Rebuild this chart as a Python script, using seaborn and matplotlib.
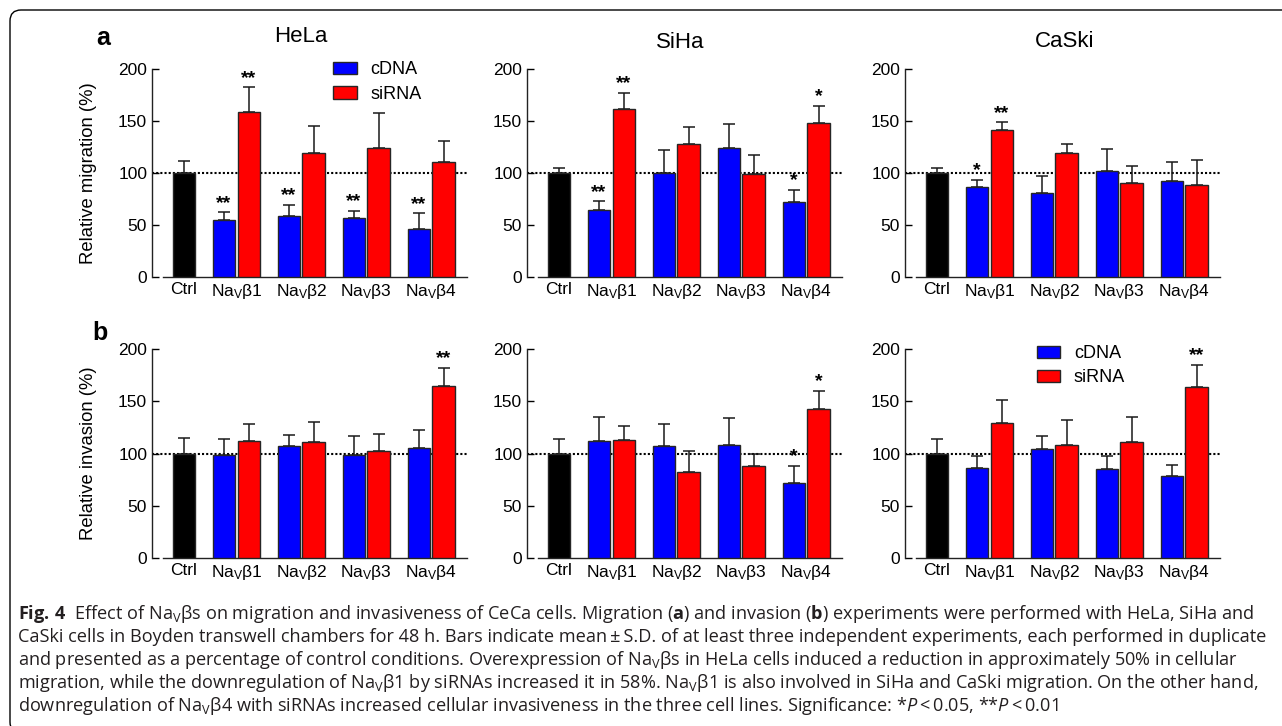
import numpy as np
import pandas as pd
import matplotlib
matplotlib.use('Agg')
import matplotlib.pyplot as plt
import seaborn as sns
from matplotlib.patches import FancyBboxPatch, Patch

# categories
cells = ['HeLa', 'SiHa', 'CaSki']
groups = ['Ctrl', 'b1', 'b2', 'b3', 'b4']
group_labels = ['Ctrl', r'Na$_\mathregular{V}$β1', r'Na$_\mathregular{V}$β2',
                r'Na$_\mathregular{V}$β3', r'Na$_\mathregular{V}$β4']

# migration (a), % of control, mean and S.D.
mig_ctrl = [100, 100, 100]
mig_ctrl_sd = [11, 5, 5]
mig_hela_cdna = [55, 59, 57, 46]
mig_hela_cdna_sd = [7, 10, 6.5, 15]
mig_hela_sirna = [158, 119, 124, 110]
mig_hela_sirna_sd = [24, 26, 33, 21]
mig_siha_cdna = [64, 100, 124, 72]
mig_siha_cdna_sd = [8.5, 22, 23, 11.5]
mig_siha_sirna = [161, 127.5, 98.5, 147.5]
mig_siha_sirna_sd = [16, 17, 19, 17]
mig_caski_cdna = [86, 80.5, 101.5, 92.5]
mig_caski_cdna_sd = [7, 16, 21, 18]
mig_caski_sirna = [141, 119.5, 90, 88]
mig_caski_sirna_sd = [7.5, 8.5, 17, 24]

# invasion (b)
inv_ctrl = [100, 100, 100]
inv_ctrl_sd = [15, 13.5, 13.5]
inv_hela_cdna = [98.5, 107, 99, 105]
inv_hela_cdna_sd = [15.5, 11, 17.5, 18]
inv_hela_sirna = [112, 111.5, 102, 164.5]
inv_hela_sirna_sd = [16, 18.5, 17, 18]
inv_siha_cdna = [112.5, 107.5, 108, 71.5]
inv_siha_cdna_sd = [22.5, 21, 26.5, 16.5]
inv_siha_sirna = [113, 82.5, 88, 142.5]
inv_siha_sirna_sd = [13.5, 19.5, 12, 18]
inv_caski_cdna = [86, 104.5, 85, 78.5]
inv_caski_cdna_sd = [11.5, 12.5, 13, 10.5]
inv_caski_sirna = [129.5, 108, 111, 164]
inv_caski_sirna_sd = [22, 24, 24, 21]

# significance marks
mig_hela_cdna_sig = ['**', '**', '**', '**']
mig_hela_sirna_sig = ['**', '', '', '']
mig_siha_cdna_sig = ['**', '', '', '*']
mig_siha_sirna_sig = ['**', '', '', '*']
mig_caski_cdna_sig = ['*', '', '', '']
mig_caski_sirna_sig = ['**', '', '', '']
inv_hela_cdna_sig = ['', '', '', '']
inv_hela_sirna_sig = ['', '', '', '**']
inv_siha_cdna_sig = ['', '', '', '*']
inv_siha_sirna_sig = ['', '', '', '*']
inv_caski_cdna_sig = ['', '', '', '']
inv_caski_sirna_sig = ['', '', '', '**']

W, H = 1282, 726
sns.set_style('ticks')
plt.rcParams['font.family'] = ['Liberation Sans', 'DejaVu Sans']
plt.rcParams['text.color'] = 'black'
plt.rcParams['axes.labelcolor'] = 'black'
plt.rcParams['xtick.color'] = 'black'
plt.rcParams['ytick.color'] = 'black'
plt.rcParams['mathtext.fontset'] = 'custom'
plt.rcParams['mathtext.rm'] = 'Open Sans'
plt.rcParams['mathtext.it'] = 'Open Sans:italic'
plt.rcParams['mathtext.bf'] = 'Open Sans:bold'

pal = {'Ctrl': 'black', 'cDNA': '#0000ff', 'siRNA': '#ff0000'}
edge = '#262626'


def make_frame(ctrl, ctrl_sd, cdna, cdna_sd, sirna, sirna_sd, sig_c, sig_s):
    rows = [dict(group='Ctrl', cond='Ctrl', val=ctrl, sd=ctrl_sd, sig='')]
    for i, g in enumerate(groups[1:]):
        rows.append(dict(group=g, cond='cDNA', val=cdna[i], sd=cdna_sd[i], sig=sig_c[i]))
        rows.append(dict(group=g, cond='siRNA', val=sirna[i], sd=sirna_sd[i], sig=sig_s[i]))
    df = pd.DataFrame(rows)
    gi = df['group'].map({g: i for i, g in enumerate(groups)})
    df['pos'] = gi + df['cond'].map({'Ctrl': 0.19, 'cDNA': -0.19, 'siRNA': 0.19})
    return df


frames = [
    [make_frame(mig_ctrl[0], mig_ctrl_sd[0], mig_hela_cdna, mig_hela_cdna_sd,
                mig_hela_sirna, mig_hela_sirna_sd, mig_hela_cdna_sig, mig_hela_sirna_sig),
     make_frame(mig_ctrl[1], mig_ctrl_sd[1], mig_siha_cdna, mig_siha_cdna_sd,
                mig_siha_sirna, mig_siha_sirna_sd, mig_siha_cdna_sig, mig_siha_sirna_sig),
     make_frame(mig_ctrl[2], mig_ctrl_sd[2], mig_caski_cdna, mig_caski_cdna_sd,
                mig_caski_sirna, mig_caski_sirna_sd, mig_caski_cdna_sig, mig_caski_sirna_sig)],
    [make_frame(inv_ctrl[0], inv_ctrl_sd[0], inv_hela_cdna, inv_hela_cdna_sd,
                inv_hela_sirna, inv_hela_sirna_sd, inv_hela_cdna_sig, inv_hela_sirna_sig),
     make_frame(inv_ctrl[1], inv_ctrl_sd[1], inv_siha_cdna, inv_siha_cdna_sd,
                inv_siha_sirna, inv_siha_sirna_sd, inv_siha_cdna_sig, inv_siha_sirna_sig),
     make_frame(inv_ctrl[2], inv_ctrl_sd[2], inv_caski_cdna, inv_caski_cdna_sd,
                inv_caski_sirna, inv_caski_sirna_sd, inv_caski_cdna_sig, inv_caski_sirna_sig)],
]

fig = plt.figure(figsize=(W / 100, H / 100), dpi=100)

# layout in pixels
col_left = [152, 527, 905]
row_zero = [277, 557.7]
ax_w, ax_h = 315, 208.3
title_x = [0.473, 0.486, 0.508]
title_y = [1.154, 1.125, 1.13]
ylabels = ['Relative migration (%)', 'Relative invasion (%)']

for r in range(2):
    for c in range(3):
        ax = fig.add_axes([col_left[c] / W, (H - row_zero[r]) / H, ax_w / W, ax_h / H])
        df = frames[r][c]
        ax.axhline(100, color='black', lw=1.5, ls=(0, (1, 1)), zorder=1)
        sns.barplot(data=df, x='pos', y='val', hue='cond', palette=pal,
                    saturation=1, native_scale=True, dodge=False, width=0.91,
                    errorbar=None, edgecolor=edge, linewidth=1.0, legend=False,
                    ax=ax, zorder=3)
        ax.errorbar(df['pos'], df['val'], yerr=[np.zeros(len(df)), df['sd']],
                    fmt='none', ecolor='#1a1a1a', elinewidth=1.1, capsize=4,
                    capthick=1.1, zorder=2)
        for _, row in df[df['sig'] != ''].iterrows():
            ax.annotate(row['sig'], (row['pos'], row['val'] + row['sd']),
                        xytext=(0, 0.5), textcoords='offset points', ha='center',
                        va='bottom', fontsize=14, fontweight='bold',
                        annotation_clip=False, zorder=4)
        centers = df.groupby('group', sort=False)['pos'].mean()
        ax.set_xticks(centers.values)
        ax.set_xticklabels(group_labels)
        ax.set_xlim(-0.3, 4.55)
        ax.set_ylim(0, 200)
        ax.set_yticks([0, 50, 100, 150, 200])
        ax.tick_params(axis='x', length=0, pad=3.5, labelsize=12.5)
        ax.tick_params(axis='y', direction='in', length=5, width=1, pad=3.5,
                       labelsize=12.5)
        sns.despine(ax=ax)
        for s in ['left', 'bottom']:
            ax.spines[s].set_linewidth(1.0)
            ax.spines[s].set_color('#222222')
        ax.spines['bottom'].set_bounds(-0.13, 4.55)
        ax.set_xlabel('')
        if c == 0:
            ax.set_ylabel(ylabels[r], fontsize=13.3)
            ax.yaxis.set_label_coords(-0.175, 0.5)
        else:
            ax.set_ylabel('')
        if r == 0:
            ax.text(title_x[c], title_y[c], cells[c], transform=ax.transAxes,
                    ha='center', va='center', fontsize=16)
        leg_pos = None
        if r == 0 and c == 0:
            leg_pos = (0.575, 1.035)
        if r == 1 and c == 2:
            leg_pos = (0.419, 1.02)
        if leg_pos is not None:
            handles = [Patch(facecolor=pal[k], edgecolor=edge, lw=1, label=k)
                       for k in ['cDNA', 'siRNA']]
            ax.legend(handles=handles, loc='upper left', bbox_to_anchor=leg_pos,
                      frameon=False, fontsize=13, handlelength=1.3,
                      handleheight=0.7, handletextpad=0.75, labelspacing=0.4,
                      borderaxespad=0, borderpad=0)

fig.text(103 / W, 1 - 38 / H, 'a', fontsize=18, fontweight='bold', ha='center', va='center')
fig.text(100 / W, 1 - 333 / H, 'b', fontsize=18, fontweight='bold', ha='center', va='center')

# caption
thin = '\u2009'
cap_lines = [
    r'$\mathbf{Fig.\,4}$  Effect of Na$_\mathregular{V}$βs on migration and invasiveness of CeCa cells. '
    r'Migration ($\mathbf{a}$) and invasion ($\mathbf{b}$) experiments were performed with HeLa, SiHa and',
    f'CaSki cells in Boyden transwell chambers for 48 h. Bars indicate mean{thin}±{thin}S.D. of at least three '
    'independent experiments, each performed in duplicate',
    r'and presented as a percentage of control conditions. Overexpression of Na$_\mathregular{V}$βs in HeLa '
    'cells induced a reduction in approximately 50% in cellular',
    r'migration, while the downregulation of Na$_\mathregular{V}$β1 by siRNAs increased it in 58%. '
    r'Na$_\mathregular{V}$β1 is also involved in SiHa and CaSki migration. On the other hand,',
    r'downregulation of Na$_\mathregular{V}$β4 with siRNAs increased cellular invasiveness in the three cell '
    r'lines. Significance: *$\mathit{P}$' + f'{thin}<{thin}0.05, **' + r'$\mathit{P}$' + f'{thin}<{thin}0.01',
]
cap_texts = []
for i, line in enumerate(cap_lines):
    t = fig.text(18 / W, 1 - (619 + 23 * i) / H, line, fontsize=14,
                 family=['Open Sans', 'DejaVu Sans'], color='#231f20', va='baseline')
    cap_texts.append(t)
fig.canvas.draw()
rend = fig.canvas.get_renderer()
wline = cap_texts[1].get_window_extent(rend).width
for t in cap_texts:
    t.set_fontsize(14 * 1250 / wline)

# rounded frame
frame = FancyBboxPatch((0.10, -0.07), 13.2, 7.16 + 0.07,
                       boxstyle='round,pad=0,rounding_size=0.11',
                       transform=fig.dpi_scale_trans, fill=False,
                       edgecolor='black', lw=1.0, clip_on=False)
fig.patches.append(frame)

fig.savefig('out.png', dpi=100)
